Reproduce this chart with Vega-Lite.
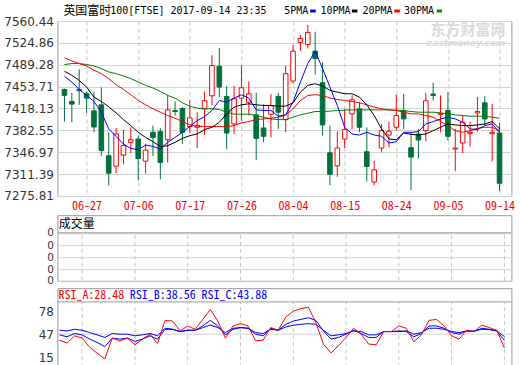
{
"$schema": "https://vega.github.io/schema/vega-lite/v6.json",
"padding": {"left": 2.4, "top": 4, "right": 0, "bottom": 0},
"background": "white",
"bounds": "flush",
"spacing": 19.2,
"resolve": {"scale": {"x": "independent", "y": "independent"}},
"config": {
"view": {"stroke": "#999999", "strokeWidth": 1},
"axis": {"ticks": false, "domain": false, "labelFont": "DejaVu Sans", "labelFontSize": 12, "labelColor": "#333333", "labelPadding": 4, "labelFlush": false, "labelOverlap": false, "labelBound": false, "gridColor": "#d4d4d4", "gridWidth": 1, "tickCount": 30},
"text": {"font": "Noto Sans Mono CJK SC, Noto Sans CJK SC", "fontSize": 12}
},
"datasets": {"k": [
{"i":0,"d":"06-22","o":7449.2,"h":7450.5,"l":7396.9,"c":7439.4,"m5":7470.5,"m10":7478.7,"m20":7500.5,"m30":7489.6,"ra":39.0,"rb":46.1,"rc":52.3},
{"i":1,"d":"06-23","o":7429.6,"h":7443.2,"l":7395.8,"c":7425.2,"m5":7461.2,"m10":7472.1,"m20":7495.6,"m30":7491.2,"ra":35.0,"rb":43.5,"rc":51.4},
{"i":2,"d":"06-26","o":7449.2,"h":7481.9,"l":7424.1,"c":7447.0,"m5":7449.2,"m10":7463.9,"m20":7491.2,"m30":7491.2,"ra":44.8,"rb":47.9,"rc":53.6},
{"i":3,"d":"06-27","o":7442.7,"h":7445.9,"l":7411.0,"c":7435.0,"m5":7439.4,"m10":7453.0,"m20":7487.4,"m30":7489.6,"ra":41.7,"rb":46.1,"rc":52.3},
{"i":4,"d":"06-28","o":7414.3,"h":7445.9,"l":7379.4,"c":7388.1,"m5":7429.6,"m10":7436.7,"m20":7480.3,"m30":7487.4,"ra":29.3,"rb":40.4,"rc":49.2},
{"i":5,"d":"06-29","o":7424.1,"h":7452.5,"l":7341.2,"c":7350.0,"m5":7412.1,"m10":7429.6,"m20":7474.8,"m30":7483.0,"ra":21.3,"rb":35.9,"rc":46.1},
{"i":6,"d":"06-30","o":7341.2,"h":7379.4,"l":7293.3,"c":7312.9,"m5":7384.9,"m10":7420.9,"m20":7466.7,"m30":7477.6,"ra":13.8,"rb":30.2,"rc":42.6},
{"i":7,"d":"07-03","o":7324.3,"h":7386.5,"l":7312.9,"c":7376.7,"m5":7372.9,"m10":7411.0,"m20":7456.8,"m30":7474.8,"ra":41.7,"rb":41.7,"rc":47.9},
{"i":8,"d":"07-04","o":7342.3,"h":7383.8,"l":7327.1,"c":7357.6,"m5":7360.3,"m10":7400.1,"m20":7449.2,"m30":7471.0,"ra":38.1,"rb":40.4,"rc":47.0},
{"i":9,"d":"07-05","o":7363.1,"h":7387.6,"l":7345.6,"c":7367.4,"m5":7353.2,"m10":7390.3,"m20":7440.5,"m30":7466.7,"ra":41.7,"rb":41.7,"rc":47.0},
{"i":10,"d":"07-06","o":7368.5,"h":7374.0,"l":7300.9,"c":7336.9,"m5":7351.1,"m10":7379.4,"m20":7431.2,"m30":7461.2,"ra":32.8,"rb":37.3,"rc":44.8},
{"i":11,"d":"07-07","o":7332.5,"h":7360.9,"l":7312.3,"c":7350.5,"m5":7358.7,"m10":7371.2,"m20":7424.1,"m30":7455.8,"ra":40.4,"rb":40.4,"rc":46.1},
{"i":12,"d":"07-10","o":7379.4,"h":7390.3,"l":7341.2,"c":7371.2,"m5":7356.5,"m10":7364.1,"m20":7417.6,"m30":7451.4,"ra":47.0,"rb":44.8,"rc":47.9},
{"i":13,"d":"07-11","o":7380.5,"h":7386.0,"l":7303.1,"c":7330.3,"m5":7352.1,"m10":7356.0,"m20":7412.1,"m30":7445.9,"ra":34.6,"rb":40.4,"rc":44.8},
{"i":14,"d":"07-12","o":7367.4,"h":7440.5,"l":7330.3,"c":7415.9,"m5":7363.1,"m10":7357.6,"m20":7406.7,"m30":7439.4,"ra":65.6,"rb":53.6,"rc":55.0},
{"i":15,"d":"07-13","o":7414.9,"h":7429.6,"l":7406.7,"c":7413.2,"m5":7371.2,"m10":7363.1,"m20":7402.3,"m30":7435.0,"ra":64.7,"rb":53.6,"rc":53.6},
{"i":16,"d":"07-14","o":7418.1,"h":7420.3,"l":7360.3,"c":7379.4,"m5":7379.4,"m10":7369.6,"m20":7396.9,"m30":7427.4,"ra":51.4,"rb":50.5,"rc":50.5},
{"i":17,"d":"07-17","o":7388.7,"h":7431.2,"l":7378.3,"c":7402.9,"m5":7389.2,"m10":7374.0,"m20":7391.4,"m30":7421.9,"ra":58.1,"rb":52.3,"rc":52.3},
{"i":18,"d":"07-18","o":7387.6,"h":7412.1,"l":7353.8,"c":7390.9,"m5":7398.5,"m10":7376.7,"m20":7389.2,"m30":7418.7,"ra":53.6,"rb":52.3,"rc":52.3},
{"i":19,"d":"07-19","o":7417.6,"h":7445.9,"l":7375.0,"c":7430.7,"m5":7405.0,"m10":7383.8,"m20":7388.7,"m30":7417.6,"ra":66.9,"rb":58.1,"rc":55.9},
{"i":20,"d":"07-20","o":7438.8,"h":7504.8,"l":7423.0,"c":7487.9,"m5":7414.9,"m10":7387.6,"m20":7388.7,"m30":7417.6,"ra":80.2,"rb":65.6,"rc":59.4},
{"i":21,"d":"07-21","o":7486.8,"h":7516.8,"l":7436.7,"c":7453.0,"m5":7431.2,"m10":7395.8,"m20":7388.7,"m30":7416.5,"ra":64.7,"rb":58.1,"rc":55.9},
{"i":22,"d":"07-24","o":7437.8,"h":7454.7,"l":7352.1,"c":7378.3,"m5":7428.5,"m10":7409.4,"m20":7388.7,"m30":7412.1,"ra":41.7,"rb":46.1,"rc":49.2},
{"i":23,"d":"07-25","o":7393.0,"h":7454.7,"l":7376.7,"c":7433.9,"m5":7435.0,"m10":7420.3,"m20":7390.3,"m30":7408.9,"ra":58.1,"rb":53.6,"rc":55.0},
{"i":24,"d":"07-26","o":7435.0,"h":7488.5,"l":7398.5,"c":7451.9,"m5":7440.5,"m10":7424.1,"m20":7394.7,"m30":7408.9,"ra":61.2,"rb":55.9,"rc":55.9},
{"i":25,"d":"07-27","o":7428.5,"h":7462.3,"l":7406.7,"c":7442.1,"m5":7435.0,"m10":7425.8,"m20":7396.9,"m30":7408.9,"ra":58.1,"rb":55.0,"rc":55.0},
{"i":26,"d":"07-28","o":7407.8,"h":7443.7,"l":7334.2,"c":7369.6,"m5":7415.9,"m10":7424.1,"m20":7400.1,"m30":7406.7,"ra":38.1,"rb":47.0,"rc":49.2},
{"i":27,"d":"07-31","o":7386.5,"h":7425.2,"l":7363.1,"c":7372.9,"m5":7414.9,"m10":7423.0,"m20":7401.2,"m30":7403.9,"ra":39.0,"rb":44.8,"rc":47.9},
{"i":28,"d":"08-01","o":7408.9,"h":7441.6,"l":7371.2,"c":7423.0,"m5":7414.9,"m10":7423.0,"m20":7402.3,"m30":7401.2,"ra":55.9,"rb":55.0,"rc":53.6},
{"i":29,"d":"08-02","o":7437.8,"h":7443.7,"l":7384.9,"c":7412.1,"m5":7405.6,"m10":7421.9,"m20":7403.9,"m30":7400.1,"ra":52.3,"rb":52.3,"rc":52.3},
{"i":30,"d":"08-03","o":7400.1,"h":7487.4,"l":7379.4,"c":7474.8,"m5":7407.8,"m10":7421.9,"m20":7407.8,"m30":7400.1,"ra":70.0,"rb":60.3,"rc":56.7},
{"i":31,"d":"08-04","o":7462.8,"h":7521.2,"l":7458.5,"c":7511.4,"m5":7428.5,"m10":7427.4,"m20":7417.6,"m30":7403.9,"ra":78.0,"rb":64.7,"rc":59.0},
{"i":32,"d":"08-07","o":7525.5,"h":7537.5,"l":7511.9,"c":7532.1,"m5":7461.2,"m10":7444.8,"m20":7431.2,"m30":7407.8,"ra":81.5,"rb":66.9,"rc":60.3},
{"i":33,"d":"08-08","o":7522.3,"h":7553.9,"l":7515.7,"c":7541.9,"m5":7491.2,"m10":7455.8,"m20":7439.4,"m30":7410.5,"ra":83.3,"rb":69.1,"rc":61.2},
{"i":34,"d":"08-09","o":7511.4,"h":7543.0,"l":7473.2,"c":7499.4,"m5":7511.4,"m10":7458.5,"m20":7440.5,"m30":7413.2,"ra":62.5,"rb":65.6,"rc":60.3},
{"i":35,"d":"08-10","o":7460.1,"h":7493.9,"l":7374.0,"c":7391.4,"m5":7483.0,"m10":7454.7,"m20":7439.4,"m30":7413.2,"ra":33.7,"rb":51.4,"rc":52.3},
{"i":36,"d":"08-11","o":7346.1,"h":7390.3,"l":7293.3,"c":7311.2,"m5":7453.0,"m10":7447.6,"m20":7435.0,"m30":7413.8,"ra":21.8,"rb":40.4,"rc":44.8},
{"i":37,"d":"08-14","o":7324.9,"h":7380.5,"l":7306.9,"c":7353.8,"m5":7423.0,"m10":7444.8,"m20":7432.8,"m30":7414.9,"ra":31.5,"rb":42.6,"rc":46.1},
{"i":38,"d":"08-15","o":7368.5,"h":7417.6,"l":7353.8,"c":7383.8,"m5":7387.6,"m10":7442.1,"m20":7431.2,"m30":7415.4,"ra":42.6,"rb":47.0,"rc":47.9},
{"i":39,"d":"08-16","o":7409.4,"h":7439.4,"l":7384.9,"c":7432.3,"m5":7376.7,"m10":7442.1,"m20":7429.6,"m30":7415.9,"ra":55.0,"rb":52.3,"rc":51.4},
{"i":40,"d":"08-17","o":7417.6,"h":7428.5,"l":7379.4,"c":7387.6,"m5":7375.0,"m10":7436.7,"m20":7427.4,"m30":7415.9,"ra":47.0,"rb":47.9,"rc":50.5},
{"i":41,"d":"08-18","o":7347.8,"h":7387.6,"l":7299.3,"c":7323.8,"m5":7379.4,"m10":7424.1,"m20":7424.1,"m30":7415.9,"ra":33.7,"rb":42.6,"rc":46.1},
{"i":42,"d":"08-21","o":7298.7,"h":7333.1,"l":7293.3,"c":7318.3,"m5":7375.0,"m10":7406.7,"m20":7420.3,"m30":7415.9,"ra":32.8,"rb":42.6,"rc":46.1},
{"i":43,"d":"08-22","o":7353.8,"h":7393.0,"l":7346.7,"c":7382.1,"m5":7372.9,"m10":7384.9,"m20":7417.6,"m30":7415.9,"ra":50.5,"rb":50.5,"rc":50.5},
{"i":44,"d":"08-23","o":7375.0,"h":7396.9,"l":7354.9,"c":7381.0,"m5":7362.0,"m10":7368.5,"m20":7415.9,"m30":7415.9,"ra":50.5,"rb":50.5,"rc":50.5},
{"i":45,"d":"08-24","o":7387.6,"h":7440.5,"l":7382.1,"c":7406.7,"m5":7364.1,"m10":7367.4,"m20":7414.9,"m30":7415.4,"ra":58.1,"rb":51.4,"rc":50.5},
{"i":46,"d":"08-25","o":7414.3,"h":7442.1,"l":7384.9,"c":7401.2,"m5":7379.4,"m10":7378.3,"m20":7412.1,"m30":7414.9,"ra":55.0,"rb":50.5,"rc":51.4},
{"i":47,"d":"08-29","o":7354.3,"h":7379.4,"l":7285.6,"c":7339.1,"m5":7379.4,"m10":7376.1,"m20":7409.4,"m30":7413.2,"ra":36.8,"rb":43.5,"rc":47.0},
{"i":48,"d":"08-30","o":7376.7,"h":7384.9,"l":7336.9,"c":7366.9,"m5":7380.5,"m10":7375.0,"m20":7409.4,"m30":7412.1,"ra":46.1,"rb":47.9,"rc":49.2},
{"i":49,"d":"08-31","o":7382.1,"h":7443.7,"l":7364.7,"c":7430.7,"m5":7393.0,"m10":7376.7,"m20":7406.7,"m30":7412.1,"ra":65.6,"rb":58.1,"rc":55.0},
{"i":50,"d":"09-01","o":7441.6,"h":7460.1,"l":7431.2,"c":7439.4,"m5":7396.9,"m10":7382.1,"m20":7403.9,"m30":7412.1,"ra":66.9,"rb":58.1,"rc":55.0},
{"i":51,"d":"09-04","o":7408.3,"h":7439.4,"l":7379.4,"c":7410.5,"m5":7401.2,"m10":7387.6,"m20":7396.9,"m30":7411.0,"ra":58.1,"rb":55.0,"rc":53.6},
{"i":52,"d":"09-05","o":7414.9,"h":7444.8,"l":7365.8,"c":7372.9,"m5":7403.9,"m10":7393.0,"m20":7390.3,"m30":7409.4,"ra":44.8,"rb":49.2,"rc":50.5},
{"i":53,"d":"09-06","o":7352.1,"h":7384.9,"l":7316.2,"c":7353.8,"m5":7401.2,"m10":7391.4,"m20":7382.1,"m30":7407.8,"ra":40.4,"rb":47.0,"rc":49.2},
{"i":54,"d":"09-07","o":7362.0,"h":7406.7,"l":7345.6,"c":7395.8,"m5":7395.8,"m10":7390.3,"m20":7379.4,"m30":7406.7,"ra":52.3,"rb":51.4,"rc":51.4},
{"i":55,"d":"09-08","o":7377.2,"h":7396.9,"l":7356.5,"c":7379.4,"m5":7384.9,"m10":7390.3,"m20":7382.1,"m30":7405.6,"ra":50.5,"rb":50.5,"rc":51.4},
{"i":56,"d":"09-11","o":7411.0,"h":7436.7,"l":7380.5,"c":7413.2,"m5":7383.8,"m10":7391.4,"m20":7386.0,"m30":7405.6,"ra":59.4,"rb":55.0,"rc":53.6},
{"i":57,"d":"09-12","o":7427.4,"h":7438.3,"l":7390.3,"c":7401.2,"m5":7390.3,"m10":7393.0,"m20":7387.6,"m30":7405.6,"ra":55.9,"rb":53.6,"rc":53.2},
{"i":58,"d":"09-13","o":7377.2,"h":7425.8,"l":7332.0,"c":7379.4,"m5":7393.0,"m10":7396.9,"m20":7387.6,"m30":7403.9,"ra":52.3,"rb":51.4,"rc":51.4},
{"i":59,"d":"09-14","o":7378.3,"h":7394.7,"l":7284.0,"c":7296.5,"m5":7379.4,"m10":7384.9,"m20":7382.1,"m30":7402.3,"ra":28.48,"rb":38.56,"rc":43.88}
]},
"vconcat": [
{
"width": 454, "height": 175,
"data": {"name": "k"},
"layer": [
{"data": {"values": [{}]}, "mark": {"type": "text", "align": "right", "baseline": "middle", "font": "Noto Sans CJK SC", "fontSize": 15, "fontWeight": "bold", "color": "#dadada"},
 "encoding": {"x": {"datum": 59.8}, "y": {"datum": 7546.5}, "text": {"value": "东方财富网"}}},
{"data": {"values": [{}]}, "mark": {"type": "text", "align": "right", "baseline": "middle", "font": "DejaVu Sans", "fontSize": 9, "fontWeight": "bold", "fontStyle": "italic", "color": "#dadada"},
 "encoding": {"x": {"datum": 59.8}, "y": {"datum": 7525.0}, "text": {"value": "eastmoney.com"}}},
{"mark": {"type": "rule", "strokeWidth": 1},
 "encoding": {
  "x": {"field": "i", "type": "quantitative", "title": null, "scale": {"domain": [-0.28, 59.93], "nice": false, "zero": false},
   "axis": {"values": [3,10,17,24,31,38,45,52,59], "tickCount": 30, "labelExpr": "['06-27','07-06','07-17','07-26','08-04','08-15','08-24','09-05','09-14'][round((datum.value-3)/7)]", "grid": true, "gridDash": [4,3], "gridColor": "#c4c4c4", "labelColor": "#ff0000", "labelFont": "Noto Sans Mono CJK SC, Noto Sans CJK SC", "labelFontSize": 12, "labelPadding": 5, "labelOverlap": false}},
  "y": {"field": "l", "type": "quantitative", "title": null, "scale": {"domain": [7275.81, 7560.44], "nice": false, "zero": false},
   "axis": {"values": [7275.81,7311.39,7346.97,7382.55,7418.13,7453.71,7489.28,7524.86,7560.44], "tickCount": 30, "format": ".2f", "grid": true, "labelOverlap": false}},
  "y2": {"field": "h"},
  "color": {"condition": {"test": "datum.c >= datum.o", "value": "#ff0000"}, "value": "#00703c"}
 }},
{"mark": {"type": "bar", "width": 4.6, "strokeWidth": 1},
 "encoding": {
  "x": {"field": "i", "type": "quantitative", "title": null},
  "y": {"field": "o", "type": "quantitative", "title": null},
  "y2": {"field": "c"},
  "fill": {"condition": {"test": "datum.c >= datum.o", "value": "#ffffff"}, "value": "#00703c"},
  "stroke": {"condition": {"test": "datum.c >= datum.o", "value": "#ff0000"}, "value": "#00703c"}
 }},
{"mark": {"type": "line", "strokeWidth": 1, "color": "#008000"}, "encoding": {"x": {"field": "i", "type": "quantitative", "title": null}, "y": {"field": "m30", "type": "quantitative", "title": null}}},
{"mark": {"type": "line", "strokeWidth": 1, "color": "#ff0000"}, "encoding": {"x": {"field": "i", "type": "quantitative", "title": null}, "y": {"field": "m20", "type": "quantitative", "title": null}}},
{"mark": {"type": "line", "strokeWidth": 1, "color": "#000000"}, "encoding": {"x": {"field": "i", "type": "quantitative", "title": null}, "y": {"field": "m10", "type": "quantitative", "title": null}}},
{"mark": {"type": "line", "strokeWidth": 1, "color": "#0000ff"}, "encoding": {"x": {"field": "i", "type": "quantitative", "title": null}, "y": {"field": "m5", "type": "quantitative", "title": null}}},
{"data": {"values": [{}]}, "mark": {"type": "text", "align": "left", "baseline": "middle", "color": "#000000", "font": "Noto Sans CJK SC"},
 "encoding": {"x": {"datum": -0.146}, "y": {"datum": 7577.5}, "text": {"value": "英国富时"}}},
{"data": {"values": [{}]}, "mark": {"type": "text", "align": "left", "baseline": "middle", "color": "#000000", "font": "DejaVu Sans Mono", "fontSize": 10},
 "encoding": {"x": {"datum": 6.22}, "y": {"datum": 7577.5}, "text": {"value": "100[FTSE] 2017-09-14 23:35"}}},
{"data": {"values": [{}]}, "mark": {"type": "text", "align": "left", "baseline": "middle", "color": "#000000", "font": "DejaVu Sans Mono", "fontSize": 10},
 "encoding": {"x": {"datum": 29.79}, "y": {"datum": 7577.5}, "text": {"value": "5PMA"}}},
{"data": {"values": [{}]}, "mark": {"type": "text", "align": "left", "baseline": "middle", "color": "#000000", "font": "DejaVu Sans Mono", "fontSize": 10},
 "encoding": {"x": {"datum": 34.73}, "y": {"datum": 7577.5}, "text": {"value": "10PMA"}}},
{"data": {"values": [{}]}, "mark": {"type": "text", "align": "left", "baseline": "middle", "color": "#000000", "font": "DejaVu Sans Mono", "fontSize": 10},
 "encoding": {"x": {"datum": 40.40}, "y": {"datum": 7577.5}, "text": {"value": "20PMA"}}},
{"data": {"values": [{}]}, "mark": {"type": "text", "align": "left", "baseline": "middle", "color": "#000000", "font": "DejaVu Sans Mono", "fontSize": 10},
 "encoding": {"x": {"datum": 46.05}, "y": {"datum": 7577.5}, "text": {"value": "30PMA"}}},
{"data": {"values": [{}]}, "mark": {"type": "rect", "color": "#0000ff"},
 "encoding": {"x": {"datum": 33.32}, "x2": {"datum": 34.07}, "y": {"datum": 7579.1}, "y2": {"datum": 7574.3}}},
{"data": {"values": [{}]}, "mark": {"type": "rect", "color": "#000000"},
 "encoding": {"x": {"datum": 38.98}, "x2": {"datum": 39.73}, "y": {"datum": 7579.1}, "y2": {"datum": 7574.3}}},
{"data": {"values": [{}]}, "mark": {"type": "rect", "color": "#ff0000"},
 "encoding": {"x": {"datum": 44.72}, "x2": {"datum": 45.48}, "y": {"datum": 7579.1}, "y2": {"datum": 7574.3}}},
{"data": {"values": [{}]}, "mark": {"type": "rect", "color": "#008000"},
 "encoding": {"x": {"datum": 50.48}, "x2": {"datum": 51.18}, "y": {"datum": 7579.1}, "y2": {"datum": 7574.3}}}
]
},
{
"vconcat": [
{
"width": 454, "height": 65.6,
"data": {"name": "k"},
"layer": [
{"transform": [{"filter": "indexof([3,10,17,24,31,38,45,52,59], datum.i) >= 0"}],
 "mark": {"type": "rule", "strokeDash": [4,3], "color": "#c4c4c4"},
 "encoding": {
  "x": {"field": "i", "type": "quantitative", "title": null, "scale": {"domain": [-0.28, 59.93], "nice": false, "zero": false}, "axis": null},
  "y": {"datum": 0, "type": "quantitative", "scale": {"domain": [0, 65.6], "nice": false, "zero": false},
   "axis": {"values": [0, 11.5, 23.3, 35.3, 48], "tickCount": 30, "labelExpr": "'0'", "labelFontSize": 10.5, "grid": true, "labelOverlap": false}},
  "y2": {"datum": 48}
 }},
{"data": {"values": [{}]}, "mark": {"type": "rule", "color": "#999999"}, "encoding": {"y": {"datum": 48}}},
{"data": {"values": [{}]}, "mark": {"type": "text", "align": "left", "baseline": "middle", "color": "#000000"},
 "encoding": {"x": {"datum": -0.106}, "y": {"datum": 56.8}, "text": {"value": "成交量"}}}
]
},
{
"width": 454, "height": 79,
"data": {"name": "k"},
"layer": [
{"transform": [{"filter": "indexof([3,10,17,24,31,38,45,52,59], datum.i) >= 0"}],
 "mark": {"type": "rule", "strokeDash": [4,3], "color": "#c4c4c4"},
 "encoding": {
  "x": {"field": "i", "type": "quantitative", "title": null, "scale": {"domain": [-0.28, 59.93], "nice": false, "zero": false}, "axis": null},
  "y": {"datum": 2.5, "type": "quantitative", "scale": {"domain": [2.5, 109], "nice": false, "zero": false},
   "axis": {"values": [15, 47, 78], "tickCount": 30, "grid": false, "labelOverlap": false}},
  "y2": {"datum": 90.5}
 }},
{"data": {"values": [{}]}, "mark": {"type": "rule", "color": "#d4d4d4"}, "encoding": {"y": {"datum": 47}}},
{"data": {"values": [{}]}, "mark": {"type": "rule", "color": "#999999"}, "encoding": {"y": {"datum": 90.5}}},
{"mark": {"type": "line", "strokeWidth": 1, "color": "#0000ff"}, "encoding": {"x": {"field": "i", "type": "quantitative", "title": null}, "y": {"field": "rc", "type": "quantitative", "title": null}}},
{"mark": {"type": "line", "strokeWidth": 1, "color": "#0000ff"}, "encoding": {"x": {"field": "i", "type": "quantitative", "title": null}, "y": {"field": "rb", "type": "quantitative", "title": null}}},
{"mark": {"type": "line", "strokeWidth": 1, "color": "#ff0000"}, "encoding": {"x": {"field": "i", "type": "quantitative", "title": null}, "y": {"field": "ra", "type": "quantitative", "title": null}}},
{"data": {"values": [{}]}, "mark": {"type": "text", "align": "left", "baseline": "middle", "color": "#ff0000"},
 "encoding": {"x": {"datum": -0.146}, "y": {"datum": 100}, "text": {"value": "RSI_A:28.48"}}},
{"data": {"values": [{}]}, "mark": {"type": "text", "align": "left", "baseline": "middle", "color": "#0000ff"},
 "encoding": {"x": {"datum": 9.31}, "y": {"datum": 100}, "text": {"value": "RSI_B:38.56"}}},
{"data": {"values": [{}]}, "mark": {"type": "text", "align": "left", "baseline": "middle", "color": "#0000ff"},
 "encoding": {"x": {"datum": 18.82}, "y": {"datum": 100}, "text": {"value": "RSI_C:43.88"}}}
]
}
],
"spacing": 7,
"bounds": "flush",
"resolve": {"scale": {"x": "independent", "y": "independent"}}
}
]
}
